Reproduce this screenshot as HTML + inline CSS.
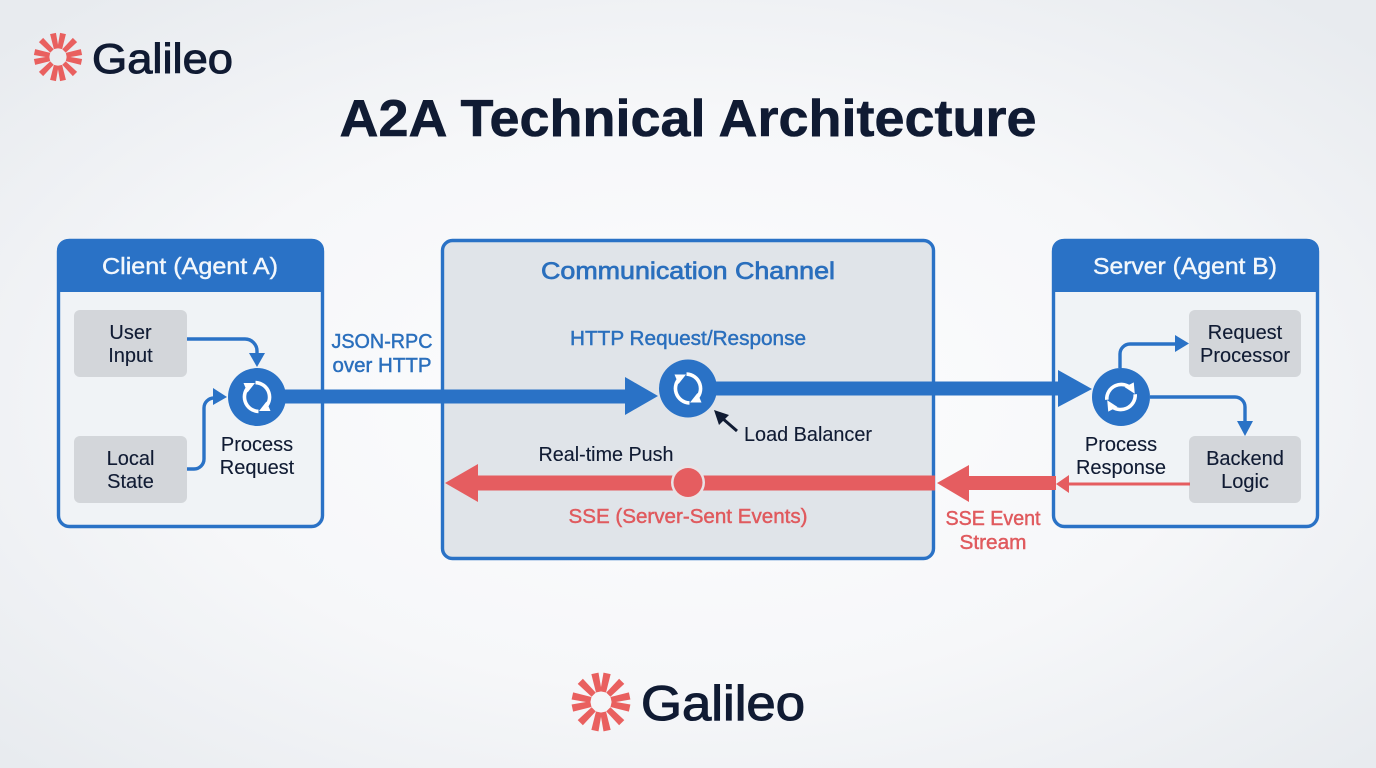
<!DOCTYPE html>
<html>
<head>
<meta charset="utf-8">
<style>
html,body{margin:0;padding:0;width:1376px;height:768px;overflow:hidden;background:#f3f5f7}
svg{display:block}
text{font-family:"Liberation Sans",sans-serif;text-anchor:middle}
.n{font-size:20px;fill:#101b33;stroke:#101b33;stroke-width:.12}
.b{font-size:20px;fill:#2a6fbd;stroke:#2a6fbd;stroke-width:.45}
.r{font-size:20px;fill:#e05a5e;stroke:#e05a5e;stroke-width:.45}
.h{font-size:23px;fill:#f2f7fc;stroke:#f2f7fc;stroke-width:.4}
</style>
</head>
<body>
<svg width="1376" height="768" viewBox="0 0 1376 768" xmlns="http://www.w3.org/2000/svg">
<defs>
<radialGradient id="bg" cx="50%" cy="52%" r="68%">
<stop offset="0" stop-color="#fdfdfe"/><stop offset=".55" stop-color="#f6f7f9"/><stop offset="1" stop-color="#e8ebef"/>
</radialGradient>
<g id="star" fill="#e9605f">
<path id="sp" d="M-2.400-8.500L2.400-8.500L3-24L-3-24Z" transform="rotate(12)"/>
<path d="M-2.400-8.500L2.400-8.500L3-24L-3-24Z" transform="rotate(45)"/>
<path d="M-2.400-8.500L2.400-8.500L3-24L-3-24Z" transform="rotate(78)"/>
<path d="M-2.400-8.500L2.400-8.500L3-24L-3-24Z" transform="rotate(102)"/>
<path d="M-2.400-8.500L2.400-8.500L3-24L-3-24Z" transform="rotate(135)"/>
<path d="M-2.400-8.500L2.400-8.500L3-24L-3-24Z" transform="rotate(168)"/>
<path d="M-2.400-8.500L2.400-8.500L3-24L-3-24Z" transform="rotate(192)"/>
<path d="M-2.400-8.500L2.400-8.500L3-24L-3-24Z" transform="rotate(225)"/>
<path d="M-2.400-8.500L2.400-8.500L3-24L-3-24Z" transform="rotate(258)"/>
<path d="M-2.400-8.500L2.400-8.500L3-24L-3-24Z" transform="rotate(282)"/>
<path d="M-2.400-8.500L2.400-8.500L3-24L-3-24Z" transform="rotate(315)"/>
<path d="M-2.400-8.500L2.400-8.500L3-24L-3-24Z" transform="rotate(348)"/>
</g>
<g id="sync" fill="none" stroke="#fff" stroke-width="3.600">
<path d="M-7-11.500A14.500 14.500 0 0 0 1.500 14.400"/>
<path d="M7 11.500A14.500 14.500 0 0 0-1.500-14.400"/>
<path d="M-13.500-14L-2-14L-9.500-4.500Z" fill="#fff" stroke="none"/>
<path d="M13.500 14L2 14L9.500 4.500Z" fill="#fff" stroke="none"/>
</g>
</defs>

<rect width="1376" height="768" fill="url(#bg)"/>

<!-- Top logo -->
<use href="#star" transform="translate(58 57)"/>
<text x="162.500" y="73" font-size="42" fill="#101b33" stroke="#101b33" stroke-width="1" textLength="141" lengthAdjust="spacingAndGlyphs">Galileo</text>

<!-- Title -->
<text x="688" y="136" font-size="52" font-weight="700" fill="#101b33" stroke="#101b33" stroke-width=".6" textLength="697" lengthAdjust="spacingAndGlyphs">A2A Technical Architecture</text>

<!-- Client -->
<rect x="58.500" y="240.500" width="264" height="286" rx="11" fill="#f0f3f6" stroke="#2a72c6" stroke-width="3.400"/>
<path d="M57 292V250a11 11 0 0 1 11-11H313a11 11 0 0 1 11 11V292Z" fill="#2a72c6"/>
<text class="h" x="190" y="274" textLength="176" lengthAdjust="spacingAndGlyphs">Client (Agent A)</text>
<rect x="74" y="310" width="113" height="67" rx="6" fill="#d3d6da"/>
<rect x="74" y="436" width="113" height="67" rx="6" fill="#d3d6da"/>
<text class="n" x="130.500" y="339">User</text><text class="n" x="130.500" y="362">Input</text>
<text class="n" x="130.500" y="465">Local</text><text class="n" x="130.500" y="488">State</text>
<text class="n" x="257" y="451">Process</text><text class="n" x="257" y="474">Request</text>

<!-- Server -->
<rect x="1053.500" y="240.500" width="264" height="286" rx="11" fill="#f0f3f6" stroke="#2a72c6" stroke-width="3.400"/>
<path d="M1052 292V250a11 11 0 0 1 11-11H1308a11 11 0 0 1 11 11V292Z" fill="#2a72c6"/>
<text class="h" x="1185" y="274" textLength="184" lengthAdjust="spacingAndGlyphs">Server (Agent B)</text>
<rect x="1189" y="310" width="112" height="67" rx="6" fill="#d3d6da"/>
<rect x="1189" y="436" width="112" height="67" rx="6" fill="#d3d6da"/>
<text class="n" x="1245" y="339">Request</text><text class="n" x="1245" y="362">Processor</text>
<text class="n" x="1245" y="465">Backend</text><text class="n" x="1245" y="488">Logic</text>
<text class="n" x="1121" y="451">Process</text><text class="n" x="1121" y="474">Response</text>

<!-- Channel -->
<rect x="442.500" y="240.500" width="491" height="318" rx="10" fill="#e0e4e9" stroke="#2a72c6" stroke-width="3.400"/>
<text x="688" y="279" font-size="24" fill="#2a6fbd" stroke="#2a6fbd" stroke-width=".7" textLength="294" lengthAdjust="spacingAndGlyphs">Communication Channel</text>
<text class="b" x="688" y="345" textLength="236" lengthAdjust="spacingAndGlyphs">HTTP Request/Response</text>
<text class="n" x="808" y="441" textLength="128" lengthAdjust="spacingAndGlyphs">Load Balancer</text>
<text class="n" x="606" y="461" textLength="135" lengthAdjust="spacingAndGlyphs">Real-time Push</text>
<text class="r" x="688" y="523" textLength="239" lengthAdjust="spacingAndGlyphs">SSE (Server-Sent Events)</text>

<!-- Outer labels -->
<text class="b" x="382" y="348" textLength="101" lengthAdjust="spacingAndGlyphs">JSON-RPC</text>
<text class="b" x="382" y="372" textLength="99" lengthAdjust="spacingAndGlyphs">over HTTP</text>
<text class="r" x="993" y="525" textLength="95" lengthAdjust="spacingAndGlyphs">SSE Event</text>
<text class="r" x="993" y="549" textLength="67" lengthAdjust="spacingAndGlyphs">Stream</text>

<!-- Small blue connectors -->
<g fill="none" stroke="#2a72c6" stroke-width="3.400">
<path d="M187 339H245a12 12 0 0 1 12 12V356"/>
<path d="M187 469H194a10 10 0 0 0 10-10V408a10 10 0 0 1 10-10H216"/>
<path d="M1120 368V354a10 10 0 0 1 10-10H1177"/>
<path d="M1150 397H1235a10 10 0 0 1 10 10V423"/>
</g>
<g fill="#2a72c6">
<path d="M249 353H265L257 367Z"/>
<path d="M213 388L227 397L213 405Z"/>
<path d="M1175 335L1189 343.500L1175 352Z"/>
<path d="M1237 421H1253L1245 436Z"/>
</g>

<!-- Thick blue arrows -->
<rect x="284" y="389.500" width="342" height="14" fill="#2a72c6"/>
<path d="M625 377L658 396L625 415Z" fill="#2a72c6"/>
<rect x="716" y="381.500" width="343" height="14" fill="#2a72c6"/>
<path d="M1058 370L1092 389L1058 407Z" fill="#2a72c6"/>

<!-- Circles -->
<circle cx="257" cy="397" r="29" fill="#2a72c6"/>
<use href="#sync" transform="translate(257 397)"/>
<circle cx="688" cy="388.500" r="29" fill="#2a72c6"/>
<use href="#sync" transform="translate(688 388.500)"/>
<circle cx="1121" cy="397" r="29" fill="#2a72c6"/>
<use href="#sync" transform="translate(1121 397) rotate(85)"/>

<!-- Load balancer pointer -->
<path d="M737 431L722 418" stroke="#101b33" stroke-width="3" fill="none"/>
<path d="M714 410L729 415L719 425Z" fill="#101b33"/>

<!-- Red arrows -->
<rect x="477" y="475.500" width="458" height="15" fill="#e55d60"/>
<path d="M478 464L445 483L478 502Z" fill="#e55d60"/>
<circle cx="688" cy="482.500" r="17" fill="#e9e3e6"/>
<circle cx="688" cy="482.500" r="14.500" fill="#e55d60"/>
<rect x="966" y="476" width="90" height="14" fill="#e55d60"/>
<path d="M969 465L937 483L969 502Z" fill="#e55d60"/>
<rect x="1067" y="482.500" width="123" height="3" fill="#e55d60"/>
<path d="M1069 475L1056 484L1069 493Z" fill="#e55d60"/>

<!-- Bottom logo -->
<use href="#star" transform="translate(601 702) scale(1.220)"/>
<text x="723" y="720" font-size="49" fill="#101b33" stroke="#101b33" stroke-width="1.100" textLength="164" lengthAdjust="spacingAndGlyphs">Galileo</text>
</svg>
</body>
</html>
